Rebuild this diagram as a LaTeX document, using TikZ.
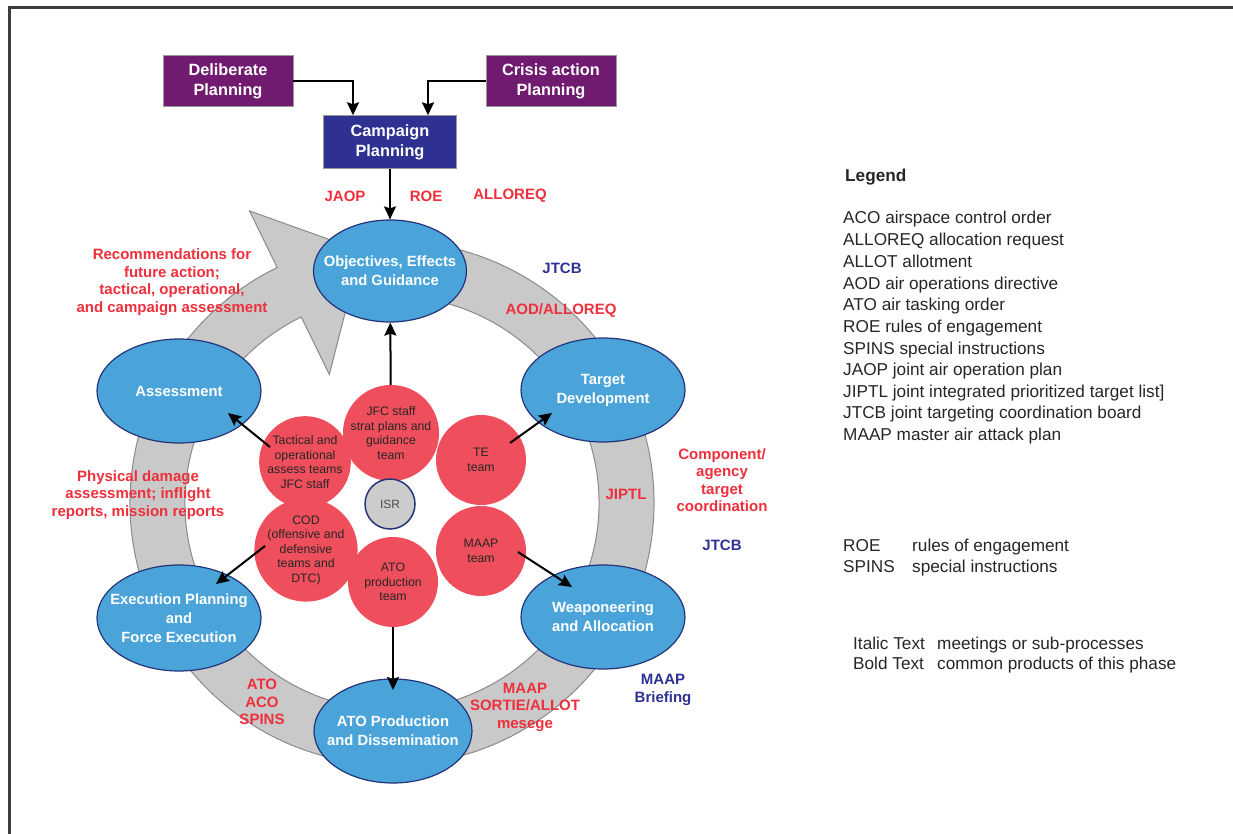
\documentclass[tikz,border=0pt]{standalone}
\usepackage{fontspec}
\setmainfont{Liberation Sans}
\usepackage{tikz}
\usepackage{xcolor}
\usetikzlibrary{shapes.geometric,arrows.meta}

\definecolor{planpurple}{HTML}{701B6F}
\definecolor{campblue}{HTML}{2E3192}
\definecolor{phaseblue}{HTML}{4AA4DA}
\definecolor{phaseline}{HTML}{243478}
\definecolor{teamred}{HTML}{EF4F5C}
\definecolor{notered}{HTML}{EE2F3C}
\definecolor{notenavy}{HTML}{2E3192}
\definecolor{ringgray}{HTML}{C9C9C9}
\definecolor{ringline}{HTML}{8A8A8A}
\definecolor{framegray}{HTML}{3C3C3C}

\begin{document}
\begin{tikzpicture}[x=1pt,y=1pt]
            \tikzset{Plan/.style={%
                shape=rectangle,%
                draw=black!40,%
                fill=planpurple,%
                text=white,%
                minimum width=130pt,%
                minimum height=51pt,%
                align=center,%
                font=\fontsize{16.3}{20}\selectfont\bfseries,%
            }}
            \tikzset{Phase/.style={%
                shape=ellipse,%
                draw=phaseline,%
                fill=phaseblue,%
                line width=1.2pt,%
                minimum width=164pt,%
                minimum height=104pt,%
                inner xsep=-30pt,%
                inner ysep=-12pt,%
                align=center,%
                text=white,%
                font=\fontsize{14.8}{19}\selectfont\bfseries,%
            }}
            \tikzset{Team/.style={%
                shape=circle,%
                fill=teamred,%
                minimum size=90pt,%
                inner sep=0pt,%
                align=center,%
                text=black!85,%
                font=\fontsize{12.3}{14.5}\selectfont,%
            }}
            \tikzset{RedNote/.style={%
                text=notered,%
                align=center,%
                inner sep=1pt,%
                font=\fontsize{15}{17.5}\selectfont\bfseries,%
            }}
            \tikzset{NavyNote/.style={RedNote, text=notenavy}}
            \tikzset{Legend/.style={%
                anchor=base west,%
                inner sep=0pt,%
                text=black!85,%
                font=\fontsize{17.2}{20}\selectfont,%
            }}
            \tikzset{Arrow/.style={%
                line width=2pt,%
                -{Stealth[length=13pt,width=12pt,inset=2pt]},%
            }}

            \useasboundingbox (0,0) rectangle (1233,-834);
            \draw[framegray, line width=3pt] (9,-834) -- (9,-7.5) -- (1233,-7.5);

            \begin{scope}[shift={(392,-503)}]
                \filldraw[fill=ringgray, draw=ringline, line width=1pt]
                    (82:262) arc[start angle=82, end angle=-244, radius=262]
                    -- (116:325) -- (97:254) -- (116:143) -- (116:207)
                    arc[start angle=116, end angle=442, radius=207] -- cycle;
            \end{scope}

            \node[Plan] (delib) at (228,-81) {Deliberate\\Planning};
            \node[Plan] (crisis) at (551,-81) {Crisis action\\Planning};
            \node[Plan, fill=campblue, minimum width=133pt, minimum height=53pt] (camp) at (390,-142) {Campaign\\Planning};

            \node[Phase, minimum width=153pt, minimum height=102pt] (obj) at (390,-271) {Objectives, Effects\\and Guidance};
            \node[Phase] (tdev) at (603,-390) {Target\\Development};
            \node[Phase] (weap) at (603,-617) {Weaponeering\\and Allocation};
            \node[Phase, minimum width=158pt] (atoprod) at (393,-731) {ATO Production\\and Dissemination};
            \node[Phase, minimum height=106pt] (exec) at (179,-618) {Execution Planning\\and\\Force Execution};
            \node[Phase] (assess) at (179,-391) {Assessment};

            \node[Team] (jfc) at (391,-433) {JFC staff\\strat plans and\\guidance\\team};
            \node[Team] (te) at (481,-460) {TE\\team};
            \node[Team] (maap) at (481,-551) {MAAP\\team};
            \node[Team] (atoteam) at (393,-582) {ATO\\production\\team};
            \node[Team] (cod) at (306,-550) {COD\\(offensive and\\defensive\\teams and\\DTC)};
            \node[Team] (tact) at (305,-462) {Tactical and\\operational\\assess teams\\JFC staff};
            \node[circle, draw=phaseline, line width=1.5pt, fill=gray!40, minimum size=50pt, inner sep=0pt,
                  text=black!70, font=\fontsize{12}{14}\selectfont] (isr) at (390,-504) {ISR};

            \draw[Arrow] (delib) -| ([xshift=-37pt]camp.north);
            \draw[Arrow] (crisis) -| ([xshift=38pt]camp.north);
            \draw[Arrow] (camp) -- (obj);
            \draw[Arrow] (jfc) -- (obj);
            \draw[Arrow] ([xshift=29pt,yshift=17pt]te.center) -- ([xshift=-51pt,yshift=-23pt]tdev.center);
            \draw[Arrow] ([xshift=37pt,yshift=-1pt]maap.center) -- ([xshift=-31pt,yshift=30pt]weap.center);
            \draw[Arrow] (atoteam) -- ([yshift=41pt]atoprod.center);
            \draw[Arrow] ([xshift=-41pt,yshift=4pt]cod.center) -- ([xshift=37pt,yshift=34pt]exec.center);
            \draw[Arrow] ([xshift=-35pt,yshift=15pt]tact.center) -- ([xshift=49pt,yshift=-22pt]assess.center);

            \node[RedNote] (jaop) at (345,-196) {JAOP};
            \node[RedNote] (roe) at (426,-196) {ROE};
            \node[RedNote] (alloreq) at (510,-196) {ALLOREQ};
            \node[NavyNote] (jtcbtop) at (562,-268) {JTCB};
            \node[RedNote] (aod) at (561,-311) {AOD/ALLOREQ};
            \node[RedNote] (recs) at (172,-282) {Recommendations for\\future action;\\tactical, operational,\\and campaign assessment};
            \node[RedNote] (damage) at (138,-495) {Physical damage\\assessment; inflight\\reports, mission reports};
            \node[RedNote] (jiptl) at (626,-494) {JIPTL};
            \node[RedNote] (compo) at (722,-480) {Component/\\agency\\target\\coordination};
            \node[NavyNote] (jtcbmid) at (722,-545) {JTCB};
            \node[RedNote] (atoaco) at (262,-702) {ATO\\ACO\\SPINS};
            \node[RedNote] (sortie) at (525,-707) {MAAP\\SORTIE/ALLOT\\mesege};
            \node[NavyNote] (brief) at (663,-690) {MAAP\\Briefing};

            \node[Legend, font=\fontsize{17.2}{20}\selectfont\bfseries] (legtitle) at (845,-182) {Legend};
            \node[Legend] (leg1) at (843,-224) {ACO airspace control order};
            \node[Legend] (leg2) at (843,-246) {ALLOREQ allocation request};
            \node[Legend] (leg3) at (843,-267) {ALLOT allotment};
            \node[Legend] (leg4) at (843,-289) {AOD air operations directive};
            \node[Legend] (leg5) at (843,-310) {ATO air tasking order};
            \node[Legend] (leg6) at (843,-332) {ROE rules of engagement};
            \node[Legend] (leg7) at (843,-354) {SPINS special instructions};
            \node[Legend] (leg8) at (843,-375) {JAOP joint air operation plan};
            \node[Legend] (leg9) at (843,-397) {JIPTL joint integrated prioritized target list]};
            \node[Legend] (leg10) at (843,-418) {JTCB joint targeting coordination board};
            \node[Legend] (leg11) at (843,-440) {MAAP master air attack plan};

            \node[Legend] (roeabbr) at (843,-551) {ROE};
            \node[Legend] (roetxt) at (912,-551) {rules of engagement};
            \node[Legend] (spinsabbr) at (843,-572) {SPINS};
            \node[Legend] (spinstxt) at (912,-572) {special instructions};
            \node[Legend] (italabbr) at (853,-649) {Italic Text};
            \node[Legend] (italtxt) at (937,-649) {meetings or sub-processes};
            \node[Legend] (boldabbr) at (853,-669) {Bold Text};
            \node[Legend] (boldtxt) at (937,-669) {common products of this phase};
        \end{tikzpicture}
\end{document}
